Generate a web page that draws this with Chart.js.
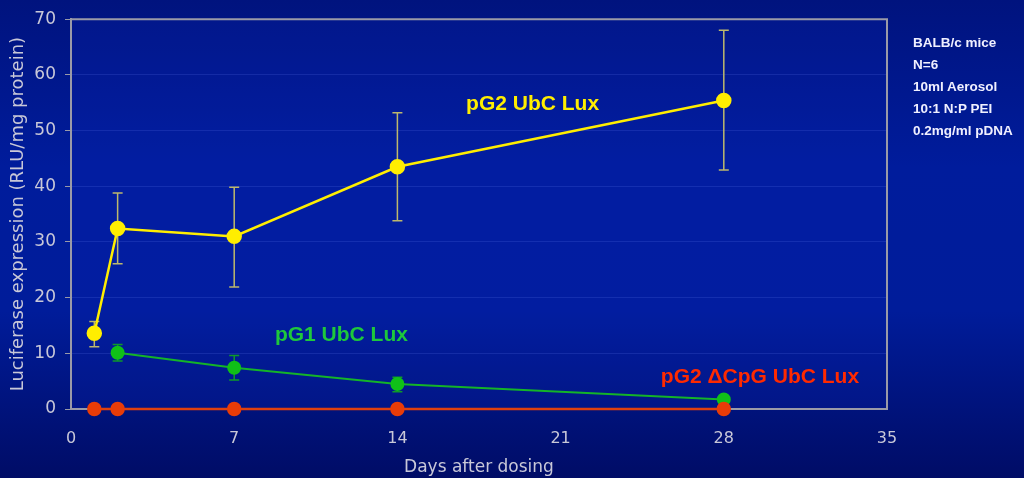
<!DOCTYPE html>
<html><head><meta charset="utf-8">
<script src="https://cdn.jsdelivr.net/npm/chart.js@4/dist/chart.umd.min.js"></script>
<style>
html,body{margin:0;padding:0;}
body{width:1024px;height:478px;overflow:hidden;position:relative;
background:linear-gradient(to bottom,#00137e 0%,#001c9c 35%,#001c9a 65%,#000c66 100%);}
#wrap{position:absolute;left:0;top:0;width:1024px;height:478px;}
#notes{position:absolute;left:913px;top:32px;color:#f0f0ff;font:bold 13.5px "Liberation Sans",Arial,sans-serif;line-height:22px;}
</style></head><body>
<div id="wrap"><canvas id="c" width="1024" height="478"></canvas></div>
<div id="notes">BALB/c mice<br>N=6<br>10ml Aerosol<br>10:1 N:P PEI<br>0.2mg/ml pDNA</div>
<script>
const xTicks=[0,7,14,21,28,35];
const yTicks=[0,10,20,30,40,50,60,70];
const g2Days=[1,2,7,14,28];
const g2Vals=[13.6,32.4,31.0,43.5,55.4];
const g2Hi=[15.7,38.8,39.8,53.2,68.0];
const g2Lo=[11.2,26.1,21.9,33.8,42.9];
const g1Days=[2,7,14,28];
const g1Vals=[10.1,7.4,4.5,1.7];
const g1Hi=[11.6,9.6,5.7,1.7];
const g1Lo=[8.6,5.2,3.1,1.7];
const cpgDays=[1,2,7,14,28];
const cpgVals=[0,0,0,0,0];
const labels=[
 {text:'pG2 UbC Lux',x:19.8,y:54.8,color:'#ffee00'},
 {text:'pG1 UbC Lux',x:11.6,y:13.2,color:'#1ec83c'},
 {text:'pG2 \u0394CpG UbC Lux',x:29.55,y:5.7,color:'#ff2a00'}
];
const pts=(xs,ys)=>xs.map((x,i)=>({x:x,y:ys[i]}));
const FONT='DejaVu Sans, Verdana, sans-serif';

const errPlugin={
 id:'err',
 beforeDatasetsDraw(chart){
  const {ctx,scales:{x,y}}=chart;
  const sets=[[g2Days,g2Hi,g2Lo,'#bdb86c'],[g1Days,g1Hi,g1Lo,'#0e9a2a']];
  ctx.save();
  ctx.lineWidth=1.5;
  sets.forEach(([d,hi,lo,col])=>{
   ctx.strokeStyle=col;
   d.forEach((v,i)=>{
    const px=x.getPixelForValue(v),ph=y.getPixelForValue(hi[i]),pl=y.getPixelForValue(lo[i]);
    if(Math.abs(ph-pl)<1)return;
    ctx.beginPath();
    ctx.moveTo(px,ph);ctx.lineTo(px,pl);
    ctx.moveTo(px-5,ph);ctx.lineTo(px+5,ph);
    ctx.moveTo(px-5,pl);ctx.lineTo(px+5,pl);
    ctx.stroke();
   });
  });
  ctx.restore();
 },
 afterDatasetsDraw(chart){
  const {ctx,scales:{x,y}}=chart;
  ctx.save();
  ctx.font='bold 21px "Liberation Sans",Arial,sans-serif';
  ctx.textAlign='center';ctx.textBaseline='middle';
  labels.forEach(l=>{ctx.fillStyle=l.color;ctx.fillText(l.text,x.getPixelForValue(l.x),y.getPixelForValue(l.y));});
  ctx.restore();
 }
};
const frame={
 id:'frame',
 beforeDraw(chart){
  const {ctx,chartArea:a}=chart;
  ctx.save();
  ctx.fillStyle='rgba(10,40,190,0.18)';
  ctx.fillRect(a.left,a.top,a.right-a.left,a.bottom-a.top);
  ctx.restore();
 },
 afterDraw(chart){
  const {ctx,chartArea:a}=chart;
  ctx.save();ctx.strokeStyle='#9a9aa8';ctx.lineWidth=2;
  ctx.beginPath();ctx.moveTo(a.left,a.top);ctx.lineTo(a.right,a.top);ctx.lineTo(a.right,a.bottom);ctx.stroke();
  ctx.restore();
 }
};

new Chart(document.getElementById('c'),{
 type:'line',
 data:{datasets:[
  {label:'pG2 \u0394CpG UbC Lux',data:pts(cpgDays,cpgVals),borderColor:'#e0400e',backgroundColor:'#e83c08',pointBackgroundColor:'#e83c08',pointBorderColor:'#e83c08',borderWidth:2.5,pointRadius:6,order:1,clip:false},
  {label:'pG1 UbC Lux',data:pts(g1Days,g1Vals),borderColor:'#14b428',backgroundColor:'#10c018',pointBackgroundColor:'#10c018',pointBorderColor:'#10c018',borderWidth:2,pointRadius:6,order:2,clip:false},
  {label:'pG2 UbC Lux',data:pts(g2Days,g2Vals),borderColor:'#ffee00',backgroundColor:'#ffee00',pointBackgroundColor:'#ffee00',pointBorderColor:'#ffee00',borderWidth:2.5,pointRadius:6.5,order:3,clip:false}
 ]},
 options:{
  responsive:false,animation:false,
  layout:{padding:{top:17,right:137,left:0,bottom:0}},
  plugins:{legend:{display:false},tooltip:{enabled:false}},
  scales:{
   x:{type:'linear',min:0,max:35,
    afterBuildTicks(s){s.ticks=xTicks.map(v=>({value:v}));},
    afterFit(s){s.height=69;},
    grid:{display:false,drawTicks:true,tickLength:6,tickColor:'#9a9aa8'},
    border:{color:'#9a9aa8',width:2},
    ticks:{color:'#c8c8d8',font:{family:FONT,size:16},padding:14,maxRotation:0},
    title:{display:true,text:'Days after dosing',color:'#c8c8d8',font:{family:FONT,size:17},padding:{top:3,bottom:0}}
   },
   y:{min:0,max:70,
    afterBuildTicks(s){s.ticks=yTicks.map(v=>({value:v}));},
    afterFit(s){s.width=71;},
    grid:{color:'rgba(120,140,255,0.16)',lineWidth:1,drawTicks:true,tickLength:6,tickColor:'#9a9aa8'},
    border:{color:'#9a9aa8',width:2},
    ticks:{color:'#c8c8d8',font:{family:FONT,size:17},padding:9},
    title:{display:true,text:'Luciferase expression (RLU/mg protein)',color:'#c8c8d8',font:{family:FONT,size:18},padding:{top:8,bottom:0}}
   }
  }
 },
 plugins:[frame,errPlugin]
});
</script>
</body></html>
